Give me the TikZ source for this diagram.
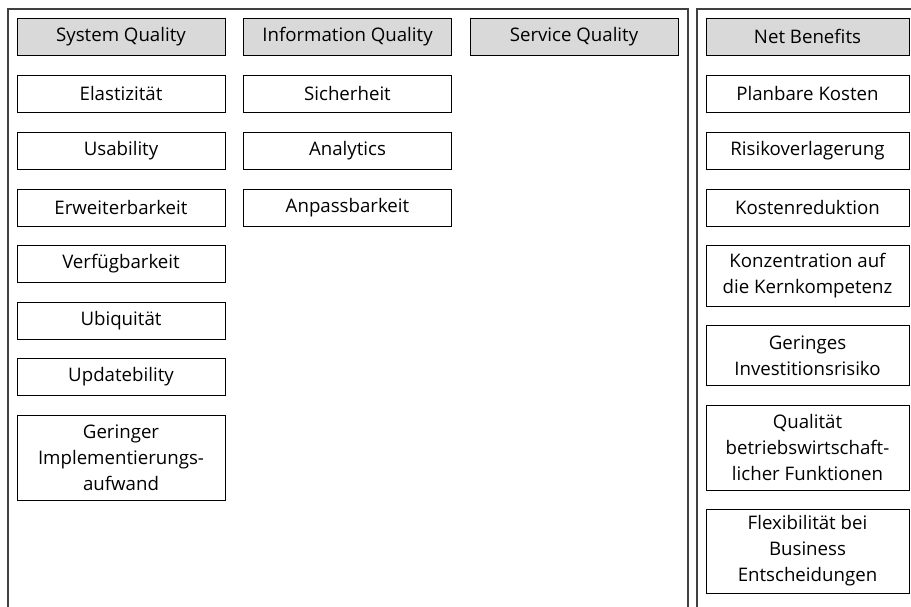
\documentclass[tikz,border=0pt]{standalone}
\usepackage{fontspec}
\setmainfont{Open Sans}
\begin{document}
\begin{tikzpicture}
        [x=0.75pt,y=-0.75pt,
         every node/.style={draw=black,line width=0.6pt,align=center,inner sep=2pt,
           font=\fontsize{14}{19.5}\selectfont,minimum width=156pt,minimum height=27.75pt},
         hdr/.style={fill=gray!30},
         frame/.style={draw=black!75,line width=1.1pt}]
        \useasboundingbox (0,0) rectangle (911,607);
        % frames
        \draw[frame] (8,607) -- (8,9) -- (688,9) -- (688,607);
        \draw[frame] (697,607) -- (697,9) -- (912,9);
        % headers
        \node[hdr] (sq) at (121,36.5)   {System Quality};
        \node[hdr] (iq) at (347.5,36.5) {Information Quality};
        \node[hdr] (vq) at (574,36.5)   {Service Quality};
        \node[hdr,minimum width=152.25pt] (nb) at (807.5,36.5) {Net Benefits};
        % system quality
        \node (s1) at (121,93.5)  {Elastizität};
        \node (s2) at (121,150.5) {Usability};
        \node (s3) at (121,207.5) {Erweiterbarkeit};
        \node (s4) at (121,263.5) {Verfügbarkeit};
        \node (s5) at (121,320.5) {Ubiquität};
        \node (s6) at (121,376.5) {Updatebility};
        \node[minimum height=63.75pt] (s7) at (121,457.5) {Geringer\\Implementierungs-\\aufwand};
        % information quality
        \node (i1) at (347.5,93.5)  {Sicherheit};
        \node (i2) at (347.5,150.5) {Analytics};
        \node (i3) at (347.5,207.5) {Anpassbarkeit};
        % net benefits
        \begin{scope}[every node/.append style={minimum width=152.25pt}]
          \node (n1) at (807.5,93.5)  {Planbare Kosten};
          \node (n2) at (807.5,150.5) {Risikoverlagerung};
          \node (n3) at (807.5,207.5) {Kostenreduktion};
          \node[minimum height=45.75pt] (n4) at (807.5,275.5) {Konzentration auf\\die Kernkompetenz};
          \node[minimum height=45pt] (n5) at (807.5,355.5) {Geringes\\Investitionsrisiko};
          \node[minimum height=63.75pt] (n6) at (807.5,447.5) {Qualität\\betriebswirtschaft-\\licher Funktionen};
          \node[minimum height=63pt] (n7) at (807.5,551) {Flexibilität bei\\Business\\Entscheidungen};
        \end{scope}
      \end{tikzpicture}
\end{document}
